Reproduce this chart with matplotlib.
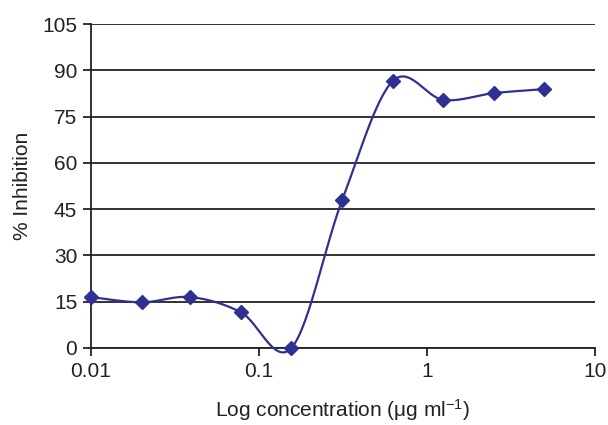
import numpy as np
import matplotlib
matplotlib.use("Agg")
import matplotlib.pyplot as plt

# Data
concentrations = [0.01, 0.02, 0.039, 0.078, 0.156, 0.3125, 0.625, 1.25, 2.5, 5.0]
inhibition = [16.5, 14.8, 16.5, 11.6, 0.0, 47.9, 86.5, 80.4, 82.6, 83.9]
y_ticks = [0, 15, 30, 45, 60, 75, 90, 105]
x_ticks = [0.01, 0.1, 1, 10]
x_tick_labels = ["0.01", "0.1", "1", "10"]

plt.rcParams['font.family'] = ['Liberation Sans', 'DejaVu Sans']
plt.rcParams['mathtext.fontset'] = 'custom'
plt.rcParams['mathtext.rm'] = 'Liberation Sans'
plt.rcParams['mathtext.it'] = 'Liberation Sans:italic'

color = '#2e3192'
dark = '#222222'

def catmull_rom(xs, ys, n=30):
    P = np.column_stack([xs, ys])
    P = np.vstack([P[0], P, P[-1]])
    out = []
    for i in range(1, len(P) - 2):
        p0, p1, p2, p3 = P[i - 1], P[i], P[i + 1], P[i + 2]
        t = np.linspace(0, 1, n, endpoint=False)[:, None]
        seg = 0.5 * ((2 * p1) + (-p0 + p2) * t + (2 * p0 - 5 * p1 + 4 * p2 - p3) * t ** 2
                     + (-p0 + 3 * p1 - 3 * p2 + p3) * t ** 3)
        out.append(seg)
    out.append(P[-2][None, :])
    return np.vstack(out)

lx = np.log10(concentrations)
curve = catmull_rom(lx, inhibition)

fig = plt.figure(figsize=(6.08, 4.25), dpi=100)
ax = fig.add_axes([0.1497, 0.1812, 0.8289, 0.7623])

for yv in y_ticks:
    ax.axhline(yv, color=dark, lw=1.3, zorder=1)

ax.plot(10 ** curve[:, 0], curve[:, 1], color=color, lw=1.6, zorder=3, clip_on=False)
ax.plot(concentrations, inhibition, linestyle='none', marker='D', markersize=7,
        color=color, zorder=4, clip_on=False)

ax.set_xscale('log')
ax.set_xlim(0.01, 10)
ax.set_ylim(0, 105)
ax.set_xticks(x_ticks)
ax.set_xticklabels(x_tick_labels)
ax.xaxis.set_minor_locator(matplotlib.ticker.NullLocator())
ax.set_yticks(y_ticks)

for s in ['top', 'right']:
    ax.spines[s].set_visible(False)
for s in ['left', 'bottom']:
    ax.spines[s].set_color(dark)
    ax.spines[s].set_linewidth(1.3)

ax.tick_params(axis='both', direction='out', length=6, width=1.3, color=dark,
               labelsize=15, labelcolor=dark, pad=4)

ax.set_xlabel('Log concentration (μg ml$^{-1}$)', fontsize=15, color=dark, labelpad=12)
ax.set_ylabel('% Inhibition', fontsize=15, color=dark, labelpad=7)

fig.savefig('out.png', dpi=100)
